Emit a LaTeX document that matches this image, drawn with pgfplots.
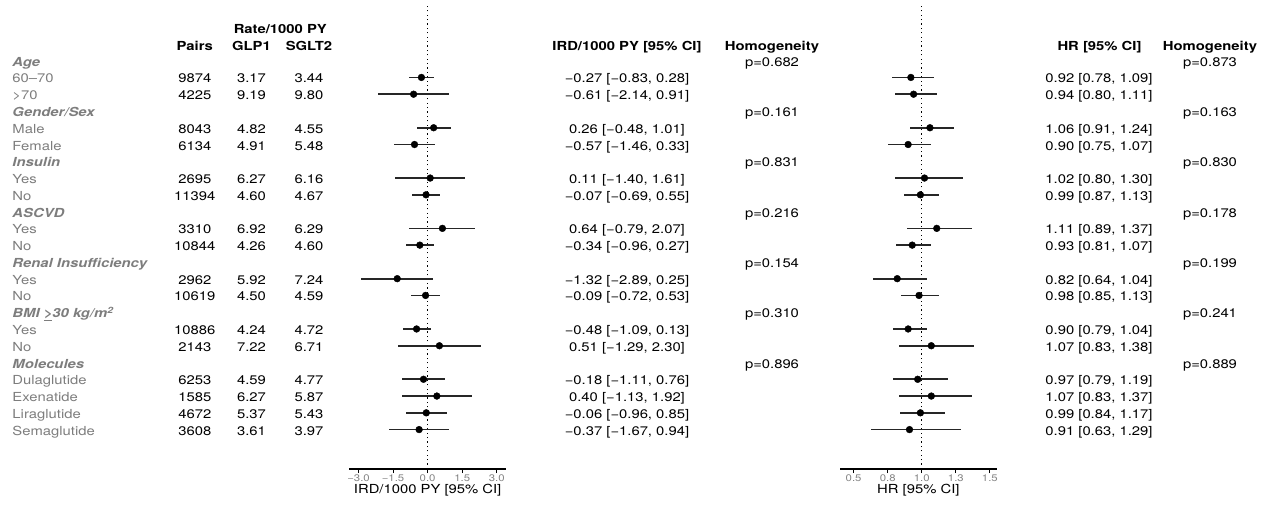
\documentclass[border=0pt]{standalone}
\usepackage{pgfplots}
\pgfplotsset{compat=1.18}
\usepackage{pgfplotstable}
\usepackage{fontspec}
\setmainfont[FakeStretch=1.19]{TeX Gyre Heros}
\definecolor{lab}{HTML}{7D7D7D}
\definecolor{ticklab}{HTML}{858585}

% row = line of the table (0 = "Age")
\pgfplotstableread{
row est lo hi
1 -0.27 -0.83 0.28
2 -0.61 -2.14 0.91
4 0.26 -0.48 1.01
5 -0.57 -1.46 0.33
7 0.11 -1.40 1.61
8 -0.07 -0.69 0.55
10 0.64 -0.79 2.07
11 -0.34 -0.96 0.27
13 -1.32 -2.89 0.25
14 -0.09 -0.72 0.53
16 -0.48 -1.09 0.13
17 0.51 -1.29 2.30
19 -0.18 -1.11 0.76
20 0.40 -1.13 1.92
21 -0.06 -0.96 0.85
22 -0.37 -1.67 0.94
}\irdtab

\pgfplotstableread{
row est lo hi
1 0.92 0.78 1.09
2 0.94 0.80 1.11
4 1.06 0.91 1.24
5 0.90 0.75 1.07
7 1.02 0.80 1.30
8 0.99 0.87 1.13
10 1.11 0.89 1.37
11 0.93 0.81 1.07
13 0.82 0.64 1.04
14 0.98 0.85 1.13
16 0.90 0.79 1.04
17 1.07 0.83 1.38
19 0.97 0.79 1.19
20 1.07 0.83 1.37
21 0.99 0.84 1.17
22 0.91 0.63 1.29
}\hrtab

\newcommand{\fs}{\fontsize{12.5}{15}\selectfont}
% text cell: row, x centre, text
\newcommand{\cell}[3]{\node[anchor=base, inner sep=0pt] at (#2,{61.7+16.77*#1+4.5}) {#3};}
\newcommand{\lab}[2]{\node[anchor=base west, inner sep=0pt, text=lab] at (12.3,{61.7+16.77*#1+4.5}) {#2};}
\newcommand{\grp}[2]{\node[anchor=base west, inner sep=0pt, text=lab, font=\fs\bfseries\itshape] at (12.3,{61.7+16.77*#1+4.5}) {#2};}

\pgfplotsset{
  forest/.style={
    scale only axis, width=156.7bp, height=463bp, anchor=south west,
    ymin=-24.35, ymax=3.26,
    axis x line*=bottom, axis y line=none,
    axis line style={line width=1.2bp, -},
    tick align=outside, major tick length=4bp,
    xtick style={black, line width=1bp},
    xticklabel style={font=\fontsize{9.6}{10}\selectfont, text=ticklab, anchor=north, inner sep=0pt, yshift=-1.5bp},
    every axis x label/.style={at={(axis description cs:0.5,0)}, anchor=base, yshift=-24.5bp, font=\fs},
    clip=false,
  },
  ci/.style={only marks, mark=*, black, mark size=3.4bp,
    error bars/.cd, x dir=both, x explicit, error mark=none,
    error bar style={line width=1.7bp, black!85}},
}

\begin{document}
\begin{tikzpicture}
\begin{axis}[forest, at={(349.3bp,-469bp)}, xmin=-3.4, xmax=3.4,
  xtick={-3,-1.5,0,1.5,3}, xticklabels={−3.0,−1.5,0.0,1.5,3.0},
  xlabel={IRD/1000 PY [95\% CI]}]
\addplot[black, line width=1.3bp, dash pattern=on 1.3bp off 3.1bp] coordinates {(0,-24.35) (0,3.26)};
\addplot[ci] table[x=est, y expr=-\thisrow{row},
  x error plus expr=\thisrow{hi}-\thisrow{est},
  x error minus expr=\thisrow{est}-\thisrow{lo}] {\irdtab};
\end{axis}

\begin{axis}[forest, at={(840bp,-469bp)}, xmin=0.4, xmax=1.55,
  xtick={0.5,0.75,1,1.25,1.5}, xticklabels={0.5,0.8,1.0,1.3,1.5},
  xlabel={HR [95\% CI]}]
\addplot[black, line width=1.3bp, dash pattern=on 1.3bp off 3.1bp] coordinates {(1,-24.35) (1,3.26)};
\addplot[ci] table[x=est, y expr=-\thisrow{row},
  x error plus expr=\thisrow{hi}-\thisrow{est},
  x error minus expr=\thisrow{est}-\thisrow{lo}] {\hrtab};
\end{axis}

\begin{scope}[x=1bp, y=-1bp, font=\fs]
% headers
\node[anchor=base, inner sep=0pt, font=\fs\bfseries] at (280.3,33.4) {Rate/1000 PY};
\node[anchor=base, inner sep=0pt, font=\fs\bfseries] at (194.8,50.2) {Pairs};
\node[anchor=base, inner sep=0pt, font=\fs\bfseries] at (251.5,50.2) {GLP1};
\node[anchor=base, inner sep=0pt, font=\fs\bfseries] at (309,50.2) {SGLT2};
\node[anchor=base, inner sep=0pt, font=\fs\bfseries] at (627,50.2) {IRD/1000 PY [95\% CI]};
\node[anchor=base, inner sep=0pt, font=\fs\bfseries] at (772,50.2) {Homogeneity};
\node[anchor=base, inner sep=0pt, font=\fs\bfseries] at (1099.5,50.2) {HR [95\% CI]};
\node[anchor=base, inner sep=0pt, font=\fs\bfseries] at (1210,50.2) {Homogeneity};

% labels
\grp{0}{Age}
\lab{1}{60–70}
\lab{2}{>70}
\grp{3}{Gender/Sex}
\lab{4}{Male}
\lab{5}{Female}
\grp{6}{Insulin}
\lab{7}{Yes}
\lab{8}{No}
\grp{9}{ASCVD}
\lab{10}{Yes}
\lab{11}{No}
\grp{12}{Renal Insufficiency}
\lab{13}{Yes}
\lab{14}{No}
\grp{15}{BMI \underline{>}30 kg/m\textsuperscript{2}}
\lab{16}{Yes}
\lab{17}{No}
\grp{18}{Molecules}
\lab{19}{Dulaglutide}
\lab{20}{Exenatide}
\lab{21}{Liraglutide}
\lab{22}{Semaglutide}

% pairs and rates
\foreach \r/\p/\g/\s in {1/9874/3.17/3.44, 2/4225/9.19/9.80, 4/8043/4.82/4.55, 5/6134/4.91/5.48,
  7/2695/6.27/6.16, 8/11394/4.60/4.67, 10/3310/6.92/6.29, 11/10844/4.26/4.60,
  13/2962/5.92/7.24, 14/10619/4.50/4.59, 16/10886/4.24/4.72, 17/2143/7.22/6.71,
  19/6253/4.59/4.77, 20/1585/6.27/5.87, 21/4672/5.37/5.43, 22/3608/3.61/3.97}{
  \cell{\r}{194.8}{\p}
  \cell{\r}{251.5}{\g}
  \cell{\r}{309}{\s}
}

% IRD text
\cell{1}{627}{−0.27 [−0.83, 0.28]}
\cell{2}{627}{−0.61 [−2.14, 0.91]}
\cell{4}{627}{0.26 [−0.48, 1.01]}
\cell{5}{627}{−0.57 [−1.46, 0.33]}
\cell{7}{627}{0.11 [−1.40, 1.61]}
\cell{8}{627}{−0.07 [−0.69, 0.55]}
\cell{10}{627}{0.64 [−0.79, 2.07]}
\cell{11}{627}{−0.34 [−0.96, 0.27]}
\cell{13}{627}{−1.32 [−2.89, 0.25]}
\cell{14}{627}{−0.09 [−0.72, 0.53]}
\cell{16}{627}{−0.48 [−1.09, 0.13]}
\cell{17}{627}{0.51 [−1.29, 2.30]}
\cell{19}{627}{−0.18 [−1.11, 0.76]}
\cell{20}{627}{0.40 [−1.13, 1.92]}
\cell{21}{627}{−0.06 [−0.96, 0.85]}
\cell{22}{627}{−0.37 [−1.67, 0.94]}

% HR text
\cell{1}{1099}{0.92 [0.78, 1.09]}
\cell{2}{1099}{0.94 [0.80, 1.11]}
\cell{4}{1099}{1.06 [0.91, 1.24]}
\cell{5}{1099}{0.90 [0.75, 1.07]}
\cell{7}{1099}{1.02 [0.80, 1.30]}
\cell{8}{1099}{0.99 [0.87, 1.13]}
\cell{10}{1099}{1.11 [0.89, 1.37]}
\cell{11}{1099}{0.93 [0.81, 1.07]}
\cell{13}{1099}{0.82 [0.64, 1.04]}
\cell{14}{1099}{0.98 [0.85, 1.13]}
\cell{16}{1099}{0.90 [0.79, 1.04]}
\cell{17}{1099}{1.07 [0.83, 1.38]}
\cell{19}{1099}{0.97 [0.79, 1.19]}
\cell{20}{1099}{1.07 [0.83, 1.37]}
\cell{21}{1099}{0.99 [0.84, 1.17]}
\cell{22}{1099}{0.91 [0.63, 1.29]}

% homogeneity p-values
\foreach \r/\a/\b in {0/0.682/0.873, 3/0.161/0.163, 6/0.831/0.830, 9/0.216/0.178,
  12/0.154/0.199, 15/0.310/0.241, 18/0.896/0.889}{
  \cell{\r}{772}{p=\a}
  \cell{\r}{1210}{p=\b}
}
\end{scope}

\pgfresetboundingbox
\path[use as bounding box] (0bp,0bp) rectangle (1263bp,-505bp);
\end{tikzpicture}
\end{document}
